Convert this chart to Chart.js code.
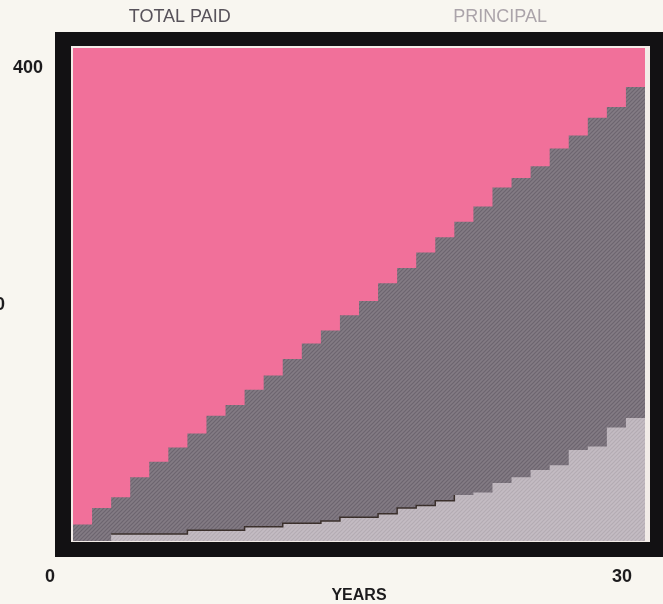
<!DOCTYPE html>
<html>
<head>
<meta charset="utf-8">
<script src="https://cdn.jsdelivr.net/npm/chart.js@4.4.1/dist/chart.umd.min.js"></script>
<style>
  html, body { margin: 0; padding: 0; background: #f8f6f0; }
</style>
</head>
<body>
<canvas id="loan-chart" width="663" height="604"></canvas>
<script>
// cumulative amounts (thousands) reached during each year of the loan
const totalPaid = [14, 28, 37, 54, 67, 79, 91, 106, 115, 128, 140, 154, 167, 178, 191,
                   203, 218, 231, 244, 257, 270, 283, 299, 307, 317, 332, 343, 358, 367, 384];
const principal = [0, 0, 6, 6, 6, 6, 9, 9, 9, 12, 12, 15, 15, 17, 20,
                   20, 23, 28, 30, 34, 39, 41, 49, 54, 60, 64, 77, 80, 96, 104];
const seriesNames = ['TOTAL PAID', 'PRINCIPAL'];
const yearTicks = [0, 30];
const amountTicks = [200, 400];
const yMax = 417;

const FONT = "'Liberation Sans', Arial, sans-serif";
const PINK = '#f1709a';

// one step per year: hold the value until the next year starts
function steps(vals) {
  const pts = vals.map((v, i) => ({ x: i, y: v }));
  pts.push({ x: vals.length, y: vals[vals.length - 1] });
  return pts;
}

// fine diagonal screen texture for the grey fills
function stripes(base, line) {
  const c = document.createElement('canvas');
  c.width = 4; c.height = 4;
  const g = c.getContext('2d');
  g.fillStyle = base;
  g.fillRect(0, 0, 4, 4);
  g.strokeStyle = line;
  g.lineWidth = 1.2;
  g.beginPath();
  g.moveTo(-1, 5); g.lineTo(5, -1);
  g.moveTo(-1, 1); g.lineTo(1, -1);
  g.moveTo(3, 5); g.lineTo(5, 3);
  g.stroke();
  return g.createPattern(c, 'repeat');
}

// black screen bezel with a pale rim around the pink plot
const bezel = {
  id: 'bezel',
  beforeDraw(chart) {
    const { ctx, chartArea: a, width, height } = chart;
    ctx.save();
    ctx.fillStyle = '#f8f6f0';
    ctx.fillRect(0, 0, width, height);
    ctx.fillStyle = '#121113';
    ctx.fillRect(a.left - 18, a.top - 16, width - a.left + 18, a.bottom - a.top + 32);
    ctx.fillStyle = '#f2ece8';
    ctx.fillRect(a.left - 2, a.top - 2, a.right - a.left + 7, a.bottom - a.top + 3);
    ctx.fillStyle = PINK;
    ctx.fillRect(a.left, a.top, a.right - a.left, a.bottom - a.top);
    ctx.restore();
  }
};

// series names printed above the bezel in the series' own tone
const seriesLabels = {
  id: 'seriesLabels',
  afterDraw(chart, args, opts) {
    const { ctx } = chart;
    const x = chart.scales.x;
    ctx.save();
    ctx.font = '18px ' + FONT;
    ctx.textAlign = 'center';
    ctx.textBaseline = 'middle';
    seriesNames.forEach((name, i) => {
      ctx.fillStyle = opts.colors[i];
      ctx.fillText(name, x.getPixelForValue(opts.at[i]), opts.y);
    });
    ctx.restore();
  }
};

const tickFont = { family: FONT, size: 18, weight: 'bold' };

new Chart(document.getElementById('loan-chart'), {
  type: 'line',
  data: {
    datasets: [
      {
        // dark edge that the low principal steps carry in the early years
        label: 'edge',
        data: steps(principal).slice(2, 21),
        stepped: 'before',
        fill: false,
        borderColor: '#3b302c',
        borderWidth: 1.5,
        pointRadius: 0
      },
      {
        label: seriesNames[1],
        data: steps(principal),
        stepped: 'before',
        fill: 'origin',
        backgroundColor: stripes('#c4bcc3', '#b4acb3'),
        borderWidth: 0,
        borderColor: 'rgba(0,0,0,0)',
        pointRadius: 0
      },
      {
        label: seriesNames[0],
        data: steps(totalPaid),
        stepped: 'before',
        fill: 'origin',
        backgroundColor: stripes('#837b84', '#6c656f'),
        borderWidth: 0,
        borderColor: 'rgba(0,0,0,0)',
        pointRadius: 0
      }
    ]
  },
  options: {
    responsive: false,
    animation: false,
    events: [],
    layout: { padding: { top: 48, right: 18, left: 0, bottom: 0 } },
    plugins: {
      legend: { display: false },
      tooltip: { enabled: false },
      seriesLabels: { at: [5.6, 22.4], y: 17, colors: ['#57525a', '#aba4aa'] }
    },
    scales: {
      x: {
        type: 'linear',
        min: 0,
        max: 30,
        afterBuildTicks: s => { s.ticks = yearTicks.map(v => ({ value: v })); },
        afterFit: s => { s.height = 63; },
        grid: { display: false, drawTicks: false },
        border: { display: false },
        // tall line box drops the year labels below the bezel
        ticks: {
          font: { family: FONT, size: 18, weight: 'bold', lineHeight: 4 },
          color: '#1c1b1d', padding: 0, labelOffset: -23, maxRotation: 0
        },
        title: {
          display: true,
          text: 'YEARS',
          color: '#1c1b1d',
          font: { family: FONT, size: 16, weight: 'bold', lineHeight: 1 },
          padding: 0
        }
      },
      y: {
        type: 'linear',
        position: 'left',
        weight: 0,
        min: 0,
        max: yMax,
        afterBuildTicks: s => { s.ticks = amountTicks.filter(v => v === 400).map(v => ({ value: v })); },
        afterFit: s => { s.width = 63; },
        grid: { display: false, drawTicks: false },
        border: { display: false },
        ticks: { font: tickFont, color: '#1c1b1d', padding: 30 }
      },
      // the mid label sits further out at the page edge
      y2: {
        type: 'linear',
        axis: 'y',
        position: 'left',
        weight: 1,
        min: 0,
        max: yMax,
        afterBuildTicks: s => { s.ticks = amountTicks.filter(v => v === 200).map(v => ({ value: v })); },
        afterFit: s => { s.width = 10; },
        grid: { display: false, drawTicks: false },
        border: { display: false },
        ticks: { font: tickFont, color: '#1c1b1d', padding: 5 }
      }
    }
  },
  plugins: [bezel, seriesLabels]
});
</script>
</body>
</html>
